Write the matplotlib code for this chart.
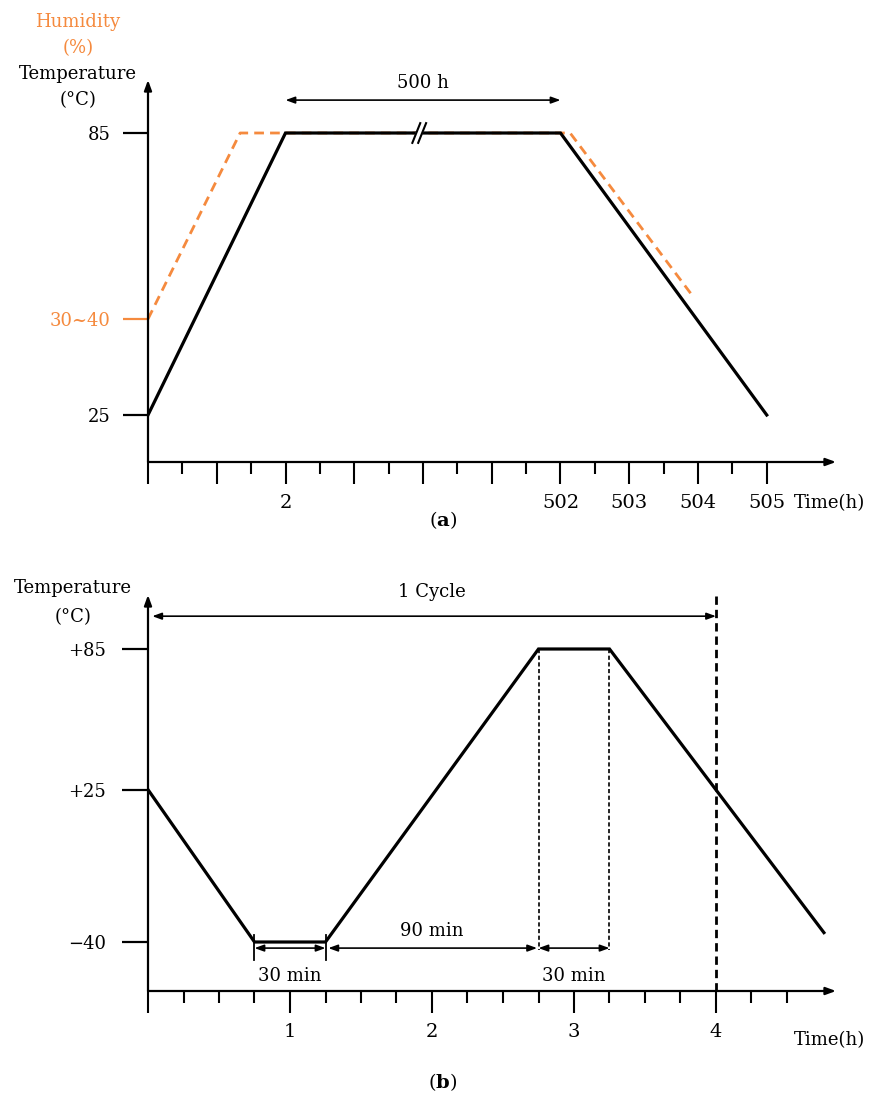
import matplotlib.pyplot as plt

plt.rcParams['font.family'] = ['DejaVu Serif']
plt.rcParams['mathtext.fontset'] = 'dejavuserif'

ORANGE = '#F58A3E'
W, H = 887, 1099

# (a) damp heat test, x in axis steps (one step = 1 h, broken between 2 and 502)
a_time = [0, 2, 6, 9]
a_temp = [25, 85, 85, 25]
a_hum_time = [0, 1.34, 6.14, 7.93]
a_hum = [35, 85, 85, 41]
a_major = [0, 1, 2, 3, 4, 5, 6, 7, 8, 9]
a_major_labels = ['', '', '2', '', '', '', '502', '503', '504', '505']
a_minor = [0.5, 1.5, 2.5, 3.5, 4.5, 5.5, 6.5, 7.5, 8.5]
a_break = 3.96

# (b) thermal cycling, x in hours
b_time = [0, 0.75, 1.25, 2.75, 3.25, 4.76]
b_temp = [25, -40, -40, 85, 85, -36]
b_major = [0, 1, 2, 3, 4]
b_major_labels = ['', '1', '2', '3', '4']
b_minor = [0.25, 0.5, 0.75, 1.25, 1.5, 1.75, 2.25, 2.5, 2.75,
           3.25, 3.5, 3.75, 4.25, 4.5]
b_yticks = [85, 25, -40]
b_ylabels = ['+85', '+25', '\u221240']


def fx(px):
    return px / W


def fy(py):
    return 1 - py / H


def axis_arrows(ax):
    for spine in ax.spines.values():
        spine.set_visible(False)
    head = '-|>,head_length=0.6,head_width=0.22'
    ax.annotate('', xy=(1, 0), xytext=(0, 0), xycoords='axes fraction',
                arrowprops=dict(arrowstyle=head, lw=1.6, color='black',
                                shrinkA=0, shrinkB=0, mutation_scale=10),
                annotation_clip=False)
    ax.annotate('', xy=(0, 1), xytext=(0, 0), xycoords='axes fraction',
                arrowprops=dict(arrowstyle=head, lw=1.6, color='black',
                                shrinkA=0, shrinkB=0, mutation_scale=10),
                annotation_clip=False)


def dim_arrow(ax, x0, x1, y):
    ax.annotate('', xy=(x1, y), xytext=(x0, y), xycoords='data',
                arrowprops=dict(arrowstyle='<|-|>,head_length=0.55,head_width=0.2',
                                lw=1.2, color='black', shrinkA=0, shrinkB=0,
                                mutation_scale=10),
                annotation_clip=False)


fig = plt.figure(figsize=(W / 100, H / 100), dpi=100)

# ---------------- panel (a) ----------------
axA = fig.add_axes([fx(148), fy(462), (836 - 148) / W, (462 - 80) / H])
twA = axA.twinx()
axA.set_zorder(twA.get_zorder() + 1)
axA.patch.set_visible(False)

axA.set_xlim(0, 688 / 68.75)
axA.set_ylim(15, 15 + (462 - 80) / 4.7)
hum_bottom = 35 - (462 - 319) / 3.72
twA.set_ylim(hum_bottom, hum_bottom + (462 - 80) / 3.72)

axis_arrows(axA)
for sp in twA.spines.values():
    sp.set_visible(False)

axA.plot(a_time, a_temp, color='black', lw=2.3, solid_joinstyle='miter', zorder=3)
twA.plot(a_hum_time, a_hum, color=ORANGE, lw=2.0, ls=(0, (3.5, 2.2)))

# break mark on the 500 h plateau
axA.fill([a_break - 0.115, a_break, a_break + 0.085, a_break - 0.03],
         [82.9, 87.1, 87.1, 82.9], color='white', zorder=4)
axA.plot([a_break - 0.115, a_break], [82.9, 87.1], color='black', lw=1.5, zorder=5)
axA.plot([a_break - 0.03, a_break + 0.085], [82.9, 87.1], color='black', lw=1.5, zorder=5)

dim_arrow(axA, 2, 6, 92)
axA.text(4, 95.6, '500 h', ha='center', va='center', fontsize=13)

axA.set_xticks(a_major, a_major_labels)
axA.set_xticks(a_minor, minor=True)
axA.tick_params(axis='x', which='major', length=15.8, width=1.5, pad=7, labelsize=14)
axA.tick_params(axis='x', which='minor', length=8.6, width=1.5)
axA.set_yticks([25, 85], ['25', '85'])
axA.tick_params(axis='y', length=18, width=1.6, pad=9, labelsize=13)

twA.yaxis.tick_left()
twA.set_yticks([35], ['30~40'])
twA.tick_params(axis='y', colors=ORANGE, length=18, width=1.6, pad=9, labelsize=13)

fig.text(fx(78), fy(22), 'Humidity', color=ORANGE, ha='center', va='center', fontsize=13)
fig.text(fx(78), fy(48), '(%)', color=ORANGE, ha='center', va='center', fontsize=13)
fig.text(fx(78), fy(74), 'Temperature', ha='center', va='center', fontsize=13)
fig.text(fx(78), fy(100), '(\u00b0C)', ha='center', va='center', fontsize=13)
fig.text(fx(830), fy(503), 'Time(h)', ha='center', va='center', fontsize=13)
fig.text(fx(443), fy(520), r'($\mathbf{a}$)', ha='center', va='center', fontsize=14)

# ---------------- panel (b) ----------------
axB = fig.add_axes([fx(148), fy(991), (836 - 148) / W, (991 - 595) / H])
axB.set_xlim(0, 688 / 142)
axB.set_ylim(85 - (991 - 649) / 2.344, 85 + (649 - 595) / 2.344)
axis_arrows(axB)

axB.plot(b_time, b_temp, color='black', lw=2.3, solid_joinstyle='miter', zorder=3)

# one cycle marker
axB.axvline(4, color='black', lw=2.0, ls=(0, (3, 1.8)))
dim_arrow(axB, 0.03, 4, 99)
axB.text(2.0, 109.3, '1 Cycle', ha='center', va='center', fontsize=13)

# dwell / ramp dimensions
for t in (0.75, 1.25):
    axB.plot([t, t], [-37, -47.7], color='black', lw=1.3)
for t in (2.75, 3.25):
    axB.plot([t, t], [85, -43.4], color='black', lw=1.2, ls=(0, (2.5, 1.5)))
dim_arrow(axB, 0.75, 1.25, -42.6)
dim_arrow(axB, 1.27, 2.74, -42.6)
dim_arrow(axB, 2.75, 3.25, -42.6)
axB.text(1.0, -54.5, '30 min', ha='center', va='center', fontsize=13)
axB.text(2.0, -35.3, '90 min', ha='center', va='center', fontsize=13)
axB.text(3.0, -54.5, '30 min', ha='center', va='center', fontsize=13)

axB.set_xticks(b_major, b_major_labels)
axB.set_xticks(b_minor, minor=True)
axB.tick_params(axis='x', which='major', length=15.8, width=1.5, pad=7, labelsize=14)
axB.tick_params(axis='x', which='minor', length=8.6, width=1.5)
axB.set_yticks(b_yticks, b_ylabels)
axB.tick_params(axis='y', length=18.5, width=1.6, pad=12, labelsize=13)

fig.text(fx(73), fy(588), 'Temperature', ha='center', va='center', fontsize=13)
fig.text(fx(73), fy(617), '(\u00b0C)', ha='center', va='center', fontsize=13)
fig.text(fx(830), fy(1040), 'Time(h)', ha='center', va='center', fontsize=13)
fig.text(fx(443), fy(1082), r'($\mathbf{b}$)', ha='center', va='center', fontsize=14)

fig.savefig('out.png', dpi=100)
